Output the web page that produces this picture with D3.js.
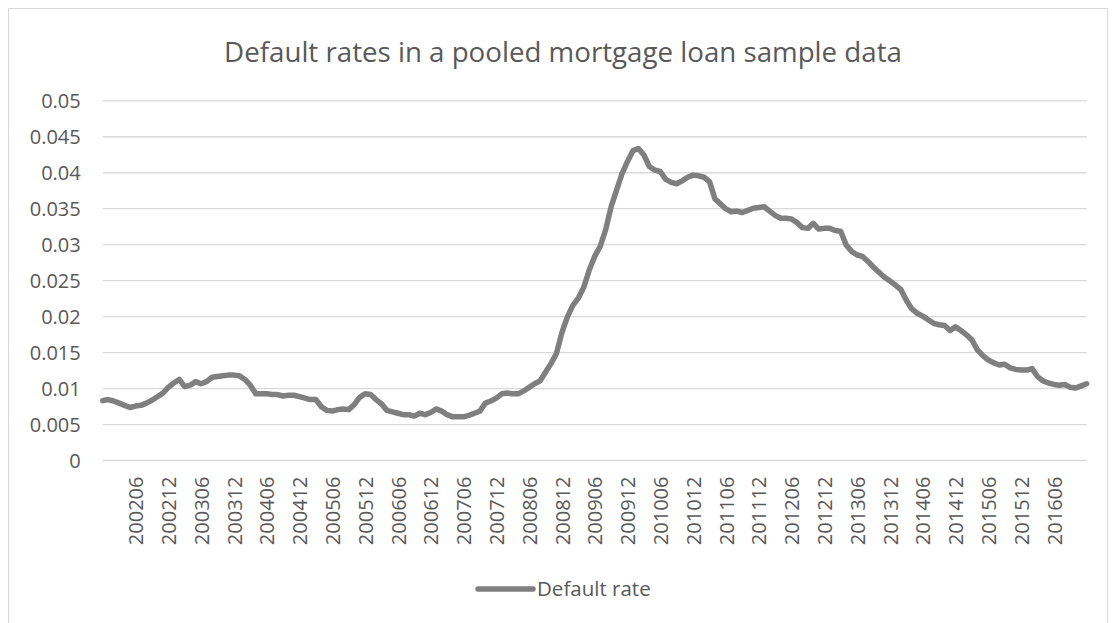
<!DOCTYPE html>
<html>
<head>
<meta charset="utf-8">
<script src="https://cdn.jsdelivr.net/npm/d3@7/dist/d3.min.js"></script>
<style>
  html, body { margin: 0; padding: 0; background: #ffffff; }
  svg { display: block; }
  text { font-family: "Open Sans", "Noto Sans", sans-serif; fill: #595959; }
</style>
</head>
<body>
<svg id="chart" width="1116" height="623"></svg>
<script>
// Monthly series: first month and count of observations
const startMonth = "200112";
const monthCount = 181;

// Default rate per month, 200112 .. 201612
const defaultRate = [
  0.00825, 0.0084, 0.0082, 0.0079, 0.0076, 0.0073, 0.0075, 0.0076, 0.0079, 0.0083,
  0.0088, 0.0093, 0.0101, 0.0107, 0.0112, 0.0102, 0.0104, 0.0109, 0.0106, 0.0109,
  0.0115, 0.0116, 0.0117, 0.0118, 0.0118, 0.0117, 0.0112, 0.0104, 0.0092, 0.0092,
  0.0092, 0.0091, 0.0091, 0.0089, 0.0090, 0.0090, 0.0088, 0.0086, 0.0084, 0.0084,
  0.0074, 0.0069, 0.0068, 0.0070, 0.0071, 0.0070, 0.0077, 0.0087, 0.0092, 0.0091,
  0.0084, 0.0078, 0.0069, 0.0067, 0.0065, 0.0063, 0.0063, 0.0061, 0.0065, 0.0063,
  0.0066, 0.0071, 0.0068, 0.0063, 0.0060, 0.0060, 0.0060, 0.0062, 0.0065, 0.0068,
  0.0079, 0.0082, 0.0086, 0.0092, 0.0093, 0.0092, 0.0092, 0.0096, 0.0101, 0.0106,
  0.0110, 0.0122, 0.0134, 0.0148, 0.0177, 0.0199, 0.0215, 0.0225, 0.0240, 0.0264,
  0.0283, 0.0297, 0.0320, 0.0352, 0.0375, 0.0398, 0.0415, 0.0430, 0.0433, 0.0424,
  0.0408, 0.0403, 0.0401, 0.0390, 0.0386, 0.0384, 0.0388, 0.0393, 0.0396, 0.0395,
  0.0393, 0.0387, 0.0363, 0.0356, 0.0349, 0.0345, 0.0346, 0.0344, 0.0347, 0.0350,
  0.0351, 0.0352, 0.0346, 0.0340, 0.0336, 0.0336, 0.0335, 0.0330, 0.0323, 0.0322,
  0.0329, 0.0321, 0.0322, 0.0322, 0.0319, 0.0318, 0.0299, 0.0290, 0.0285, 0.0283,
  0.0276, 0.0268, 0.0261, 0.0254, 0.0249, 0.0243, 0.0237, 0.0222, 0.0210, 0.0204,
  0.0200, 0.0195, 0.0190, 0.0188, 0.0187, 0.0180, 0.0185, 0.0180, 0.0174, 0.0167,
  0.0153, 0.0145, 0.0139, 0.0135, 0.0132, 0.0133, 0.0128, 0.0126, 0.0125, 0.0125,
  0.0127, 0.0116, 0.0110, 0.0107, 0.0105, 0.0104, 0.0105, 0.0101, 0.0100, 0.0103,
  0.0106
];

// Category labels shown on the horizontal axis
const tickLabels = [
  "200206", "200212", "200306", "200312", "200406", "200412", "200506", "200512",
  "200606", "200612", "200706", "200712", "200806", "200812", "200906", "200912",
  "201006", "201012", "201106", "201112", "201206", "201212", "201306", "201312",
  "201406", "201412", "201506", "201512", "201606"
];

// Value axis ticks
const yTicks = [0, 0.005, 0.01, 0.015, 0.02, 0.025, 0.03, 0.035, 0.04, 0.045, 0.05];

const titleText = "Default rates in a pooled mortgage loan sample data";
const seriesName = "Default rate";

// Build the list of YYYYMM month keys
const months = [];
{
  let y = +startMonth.slice(0, 4), m = +startMonth.slice(4);
  for (let i = 0; i < monthCount; i++) {
    months.push(String(y) + String(m).padStart(2, "0"));
    m++; if (m > 12) { m = 1; y++; }
  }
}
const data = months.map((k, i) => ({ month: k, idx: i, value: defaultRate[i] }));

const svg = d3.select("#chart");
const lineColor = "#7f7f7f";
const gridColor = "#d9d9d9";

// Chart frame
svg.append("rect")
  .attr("x", 8.5).attr("y", 8.5)
  .attr("width", 1099).attr("height", 640)
  .attr("fill", "#ffffff")
  .attr("stroke", gridColor).attr("stroke-width", 1);

const plot = { left: 102.7, right: 1086.7, top: 100.3, bottom: 460 };

const x = d3.scaleLinear().domain([0, monthCount - 1]).range([plot.left, plot.right]);
const y = d3.scaleLinear().domain([0, 0.05]).range([plot.bottom, plot.top]);

// Title
svg.append("text")
  .attr("x", 563).attr("y", 62)
  .attr("text-anchor", "middle")
  .style("font-size", "27.7px")
  .text(titleText);

// Horizontal gridlines and value labels
const yAxis = d3.axisLeft(y)
  .tickValues(yTicks)
  .tickSize(-(plot.right - plot.left))
  .tickPadding(22)
  .tickFormat(d => d === 0 ? "0" : String(+d.toFixed(3)));

const gy = svg.append("g")
  .attr("transform", `translate(${plot.left},0)`)
  .call(yAxis);
gy.select(".domain").remove();
gy.selectAll(".tick line").attr("stroke", gridColor).attr("stroke-width", 1.3);
gy.selectAll(".tick text")
  .style("font-size", "20px")
  .attr("fill", "#595959")
  .attr("dy", "0.35em");

// Category labels (rotated), every sixth month
const labelIdx = tickLabels.map(t => months.indexOf(t));
const xAxis = d3.axisBottom(x)
  .tickValues(labelIdx)
  .tickSize(0)
  .tickFormat(i => months[i]);
const gx = svg.append("g")
  .attr("transform", `translate(0,${plot.bottom})`)
  .call(xAxis);
gx.select(".domain").remove();
gx.selectAll(".tick text")
  .style("font-size", "20px")
  .attr("fill", "#595959")
  .attr("text-anchor", "end")
  .attr("transform", "rotate(-90)")
  .attr("x", -16.5)
  .attr("y", 0)
  .attr("dy", "0.36em")
  .attr("dx", 0);

// Series line
const line = d3.line()
  .x(d => x(d.idx))
  .y(d => y(d.value));

svg.append("path")
  .datum(data)
  .attr("fill", "none")
  .attr("stroke", lineColor)
  .attr("stroke-width", 5.5)
  .attr("stroke-linejoin", "round")
  .attr("stroke-linecap", "round")
  .attr("d", line);

// Legend
const legend = svg.append("g").attr("transform", "translate(478,589)");
legend.append("line")
  .attr("x1", 0).attr("x2", 55)
  .attr("y1", 0).attr("y2", 0)
  .attr("stroke", lineColor)
  .attr("stroke-width", 5.5)
  .attr("stroke-linecap", "round");
legend.append("text")
  .attr("x", 59).attr("y", 0)
  .attr("dy", "0.35em")
  .style("font-size", "20.5px")
  .text(seriesName);
</script>
</body>
</html>
